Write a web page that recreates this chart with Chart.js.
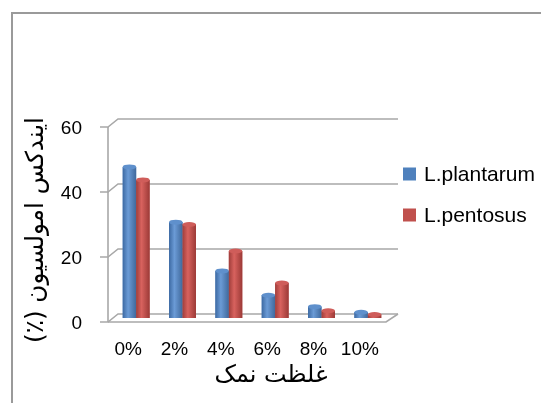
<!DOCTYPE html>
<html><head><meta charset="utf-8">
<script src="https://cdn.jsdelivr.net/npm/chart.js@4.4.1/dist/chart.umd.min.js"></script>
<style>html,body{margin:0;padding:0;background:#fff;overflow:hidden}canvas{display:block}</style>
</head><body>
<canvas id="c" width="541" height="403"></canvas>
<script>
const categories = ['0%', '2%', '4%', '6%', '8%', '10%'];
const seriesNames = ['L.plantarum', 'L.pentosus'];
const plantarum = [46.5, 29.5, 14.5, 7, 3.5, 1.8];
const pentosus = [42.5, 28.8, 20.6, 10.8, 2.2, 1.1];
const yTicks = [0, 20, 40, 60];
const xTitle = 'غلظت نمک';
const yTitle = 'ایندکس امولسیون (٪)';
const colors = ['#4F81BD', '#C0504D'];
const shades = [['#3d6aa3', '#6b9bd6', '#40699c'], ['#a03e3b', '#d8625e', '#9c3a37']];
const caps = ['#5f90cc', '#cf5d5a'];

const FONT = '"Liberation Sans", "DejaVu Sans", sans-serif';
const AFONT = '"DejaVu Sans", sans-serif';

function fitSize(ctx, text, target, family) {
  ctx.font = '20px ' + family;
  return 20 * target / ctx.measureText(text).width;
}

const deco = {
  id: 'deco',
  beforeDraw(chart) {
    const ctx = chart.ctx;
    ctx.save();
    ctx.strokeStyle = '#9a9a9a';
    ctx.lineWidth = 2;
    ctx.beginPath();
    ctx.moveTo(12, 403); ctx.lineTo(12, 13); ctx.lineTo(541, 13);
    ctx.stroke();
    ctx.restore();
  },
  beforeDatasetsDraw(chart) {
    const { ctx, chartArea: a, scales: { y } } = chart;
    const fx = a.left - 5, bx = a.left + 5, right = a.right + 7;
    ctx.save();
    ctx.strokeStyle = '#a8a8a8';
    ctx.lineWidth = 1.6;
    ctx.beginPath();
    ctx.moveTo(fx, y.getPixelForValue(60) + 4);
    ctx.lineTo(fx, y.getPixelForValue(0) + 4);
    ctx.stroke();
    yTicks.forEach(v => {
      const py = y.getPixelForValue(v);
      ctx.beginPath();
      ctx.moveTo(fx - 8, py + 4); ctx.lineTo(fx, py + 4);
      ctx.lineTo(bx, py - 4); ctx.lineTo(right, py - 4);
      ctx.stroke();
    });
    const p0 = y.getPixelForValue(0);
    ctx.beginPath();
    ctx.moveTo(fx, p0 + 4); ctx.lineTo(a.right - 5, p0 + 4); ctx.lineTo(right, p0 - 4);
    ctx.stroke();
    ctx.restore();
  },
  afterDatasetsDraw(chart) {
    const ctx = chart.ctx;
    ctx.save();
    chart.data.datasets.forEach((ds, di) => {
      chart.getDatasetMeta(di).data.forEach(el => {
        const { x, y: top, base, width } = el.getProps(['x', 'y', 'base', 'width'], true);
        const l = x - width / 2, r = x + width / 2;
        const g = ctx.createLinearGradient(l, 0, r, 0);
        g.addColorStop(0, shades[di][0]);
        g.addColorStop(0.4, shades[di][1]);
        g.addColorStop(1, shades[di][2]);
        ctx.fillStyle = g;
        ctx.fillRect(l, top, width, base - top);
        ctx.beginPath();
        ctx.ellipse(x, top, width / 2, 2.5, 0, 0, Math.PI * 2);
        ctx.fillStyle = caps[di];
        ctx.fill();
      });
    });
    ctx.restore();
  },
  afterDraw(chart) {
    const ctx = chart.ctx;
    ctx.save();
    ctx.fillStyle = '#000';
    ctx.textAlign = 'center';
    ctx.textBaseline = 'middle';
    ctx.direction = 'rtl';
    // x title
    let s = fitSize(ctx, xTitle, 113, AFONT);
    ctx.font = s + 'px ' + AFONT;
    ctx.fillText(xTitle, 271, 376);
    // y title
    s = fitSize(ctx, yTitle, 226, AFONT);
    ctx.save();
    ctx.translate(37, 230);
    ctx.rotate(-Math.PI / 2);
    ctx.font = s + 'px ' + AFONT;
    ctx.fillText(yTitle, 0, 0);
    ctx.restore();
    // legend
    ctx.direction = 'ltr';
    const ly = [174, 215];
    chart.data.datasets.forEach((ds, i) => {
      ctx.fillStyle = ds.backgroundColor;
      ctx.fillRect(403, ly[i] - 6.5, 13, 13);
      ctx.fillStyle = '#000';
      ctx.textAlign = 'left';
      ctx.font = '21px ' + FONT;
      ctx.fillText(ds.label, 424, ly[i] + 1);
    });
    ctx.restore();
  }
};

new Chart(document.getElementById('c'), {
  type: 'bar',
  data: {
    labels: categories,
    datasets: [
      { label: seriesNames[0], data: plantarum, backgroundColor: colors[0] },
      { label: seriesNames[1], data: pentosus, backgroundColor: colors[1] }
    ]
  },
  options: {
    responsive: false,
    animation: false,
    devicePixelRatio: 1,
    layout: { padding: { left: 0, right: 150, top: 123, bottom: 0 } },
    plugins: { legend: { display: false }, tooltip: { enabled: false }, title: { display: false } },
    datasets: { bar: { categoryPercentage: 0.58, barPercentage: 1.0 } },
    scales: {
      x: {
        grid: { display: false, drawTicks: false },
        border: { display: false },
        ticks: { font: { family: FONT, size: 19 }, color: '#000', padding: 20, labelOffset: -8, maxRotation: 0, autoSkip: false },
        afterFit(s) { s.height = 85; }
      },
      y: {
        min: 0, max: 60,
        afterBuildTicks(s) { s.ticks = yTicks.map(v => ({ value: v })); },
        grid: { display: false, drawTicks: false },
        border: { display: false },
        ticks: { font: { family: FONT, size: 19 }, color: '#000', padding: 31, labelOffset: 6 },
        afterFit(s) { s.width = 113; }
      }
    }
  },
  plugins: [deco]
});
</script>
</body></html>
